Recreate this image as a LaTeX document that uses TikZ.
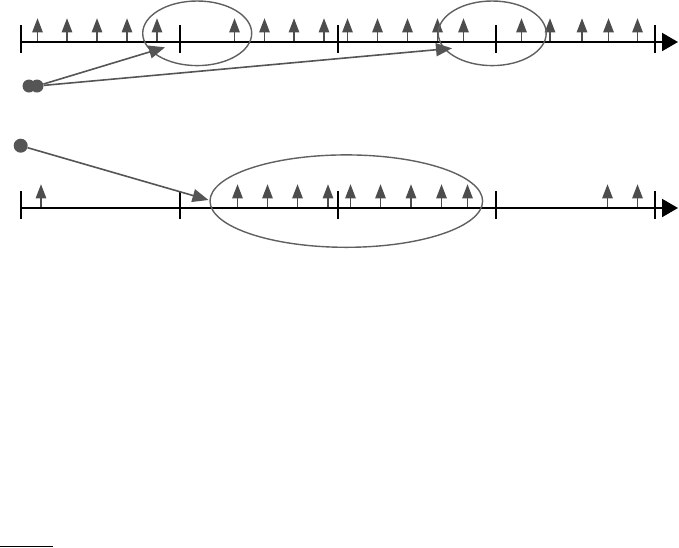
\documentclass[tikz,border=0pt]{standalone}
\usetikzlibrary{arrows.meta,shapes.geometric}
\definecolor{evc}{HTML}{4D4D4D}
\definecolor{conc}{HTML}{555555}
\definecolor{ellc}{HTML}{606060}
\begin{document}
\begin{tikzpicture}[x=1pt,y=-1pt,
  axis/.style={line width=2pt,black,-{Triangle[length=16pt,width=18pt]}},
  tickmark/.style={line width=2pt,black},
  evarrow/.pic={\fill[evc] (-5.4,-9.7) -- (5.4,-9.7) -- (0,-23.7) -- cycle;
                \draw[evc,line width=1.5pt] (0,0) -- (0,-10);},
  dotnode/.style={circle,fill=conc,inner sep=0pt,minimum size=14pt},
  conn/.style={conc,line width=1.6pt,-{Triangle[length=16pt,width=13pt]}},
  ring/.style={ellipse,draw=ellc,line width=1.4pt,inner sep=0pt}]
\useasboundingbox (0,0) rectangle (679,547);
% top axis
\coordinate (a1s) at (21,42);
\coordinate (a1e) at (678,42);
\foreach \x in {37.5,67,97,127,157,234.5,264.5,294,324,347.5,377.5,407.5,437.5,463.5,521.5,550,582,608.5,637.5}
  \pic at (\x,42) {evarrow};
\draw[axis] (a1s) -- (a1e);
\foreach \x in {21,180,338,496,655}
  \draw[tickmark] (\x,25) -- (\x,53.3);
% bottom axis
\coordinate (a2s) at (21,208);
\coordinate (a2e) at (678,208);
\foreach \x in {41,237.5,267.5,297.5,328,350.5,380.5,411,441.5,467.5,607.5,637.5}
  \pic at (\x,208) {evarrow};
\draw[axis] (a2s) -- (a2e);
\foreach \x in {21,180,338,496,655}
  \draw[tickmark] (\x,191) -- (\x,219.3);
% ellipses
\node[ring,minimum width=109pt,minimum height=64.6pt] (e1) at (197.2,33.3) {};
\node[ring,minimum width=108pt,minimum height=64.6pt] (e2) at (492.2,33.3) {};
\node[ring,minimum width=272.6pt,minimum height=92.4pt] (e3) at (346.3,201.1) {};
% dots
\node[dotnode,minimum size=13pt] (d1) at (29,86) {};
\node[dotnode,minimum size=13pt] (d2) at (37,86) {};
\node[dotnode,minimum size=14pt] (d3) at (20.7,145.7) {};
% connector targets
\coordinate (t1) at (165,47.3);
\coordinate (t2) at (452,48.3);
\coordinate (t3) at (208.5,200);
\draw[conn] (d2) -- (t1);
\draw[conn] (d2) -- (t2);
\draw[conn] (d3) -- (t3);
% footnote rule
\coordinate (r1) at (0,546);
\coordinate (r2) at (53,546);
\draw[black,line width=1pt] (r1) -- (r2);
\end{tikzpicture}
\end{document}
